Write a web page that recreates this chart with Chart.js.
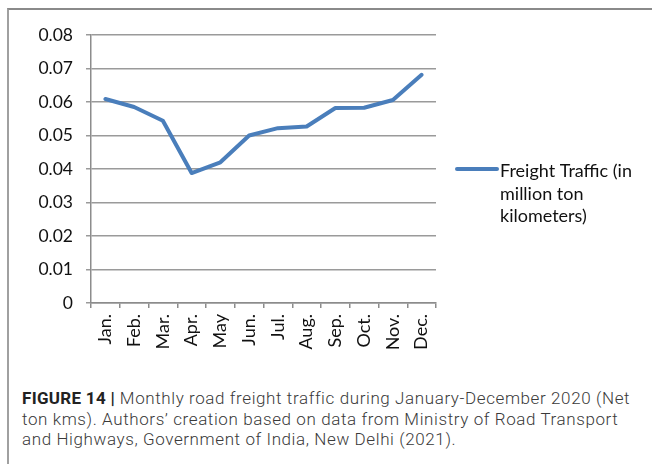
<!DOCTYPE html>
<html>
<head>
<meta charset="utf-8">
<script src="https://cdn.jsdelivr.net/npm/chart.js@4.4.0/dist/chart.umd.min.js"></script>
<style>
  html, body { margin: 0; padding: 0; background: #fff; }
  body { width: 652px; height: 464px; position: relative; overflow: hidden; }
  .frame {
    position: absolute; left: 7px; top: 8px; width: 700px; height: 500px;
    border-top: 2px solid #8a8a8a; border-left: 2px solid #a0a0a0;
  }
  #chart { position: absolute; left: 0; top: 0; }
  .caption {
    position: absolute; left: 22px; top: 388px;
    font-family: Roboto, "Liberation Sans", sans-serif; font-size: 17px;
    letter-spacing: 0.6px;
    line-height: 20.5px; color: #3a3a3a; white-space: nowrap; font-weight: 300;
  }
  .caption b { font-weight: 700; color: #222; letter-spacing: 0.3px; }
</style>
</head>
<body>
<div class="frame"></div>
<canvas id="chart" width="652" height="370"></canvas>
<div class="caption"><b>FIGURE 14 |</b> Monthly road freight traffic during January-December 2020 (Net<br>ton kms). Authors’ creation based on data from Ministry of Road Transport<br>and Highways, Government of India, New Delhi (2021).</div>
<script>
const months = ['Jan.', 'Feb.', 'Mar.', 'Apr.', 'May', 'Jun.', 'Jul.', 'Aug.', 'Sep.', 'Oct.', 'Nov.', 'Dec.'];
const freight = [0.0609, 0.0585, 0.0544, 0.0388, 0.0420, 0.0500, 0.0522, 0.0527, 0.0582, 0.0583, 0.0606, 0.0681];
const yTicks = ['0', '0.01', '0.02', '0.03', '0.04', '0.05', '0.06', '0.07', '0.08'];
const legendLines = ['Freight Traffic (in', 'million ton', 'kilometers)'];

const lineColor = '#4a7ebb';
const fontFamily = 'Lato, "Open Sans", sans-serif';

// legend on the right, text over three lines
const sideLegend = {
  id: 'sideLegend',
  afterDraw(chart) {
    const ctx = chart.ctx;
    const area = chart.chartArea;
    const x0 = area.right + 21;
    const y0 = 169;
    ctx.save();
    ctx.strokeStyle = lineColor;
    ctx.lineWidth = 4;
    ctx.lineCap = 'round';
    ctx.beginPath();
    ctx.moveTo(x0, y0);
    ctx.lineTo(x0 + 40, y0);
    ctx.stroke();
    ctx.fillStyle = '#111';
    ctx.font = '18px ' + fontFamily;
    ctx.textBaseline = 'alphabetic';
    legendLines.forEach((t, i) => {
      ctx.fillText(t, x0 + 43, 177 + i * 22.5);
    });
    ctx.restore();
  }
};

new Chart(document.getElementById('chart').getContext('2d'), {
  type: 'line',
  data: {
    labels: months,
    datasets: [{
      label: legendLines.join(' '),
      data: freight,
      borderColor: lineColor,
      borderWidth: 4,
      borderCapStyle: 'round',
      borderJoinStyle: 'round',
      pointRadius: 0,
      tension: 0,
      fill: false
    }]
  },
  options: {
    responsive: false,
    animation: false,
    events: [],
    layout: { padding: { left: 0, top: 35, right: 216, bottom: 0 } },
    plugins: {
      legend: { display: false },
      tooltip: { enabled: false }
    },
    scales: {
      x: {
        offset: true,
        grid: {
          offset: true,
          drawOnChartArea: false,
          drawTicks: true,
          tickLength: 5,
          color: '#8c8c8c',
          lineWidth: 1.5
        },
        border: { color: '#8c8c8c', width: 1.5 },
        ticks: {
          minRotation: 90,
          maxRotation: 90,
          padding: 6,
          color: '#111',
          font: { family: fontFamily, size: 18 }
        },
        afterFit(scale) { scale.height = 67; }
      },
      y: {
        min: 0,
        max: 0.08,
        grid: {
          color: '#9a9a9a',
          lineWidth: 1.5,
          tickLength: 5
        },
        border: { color: '#8c8c8c', width: 1.5 },
        ticks: {
          stepSize: 0.01,
          padding: 13,
          color: '#111',
          font: { family: fontFamily, size: 17.5 },
          callback: (v, i) => yTicks[i]
        },
        afterFit(scale) { scale.width = 91; }
      }
    }
  },
  plugins: [sideLegend]
});
</script>
</body>
</html>
